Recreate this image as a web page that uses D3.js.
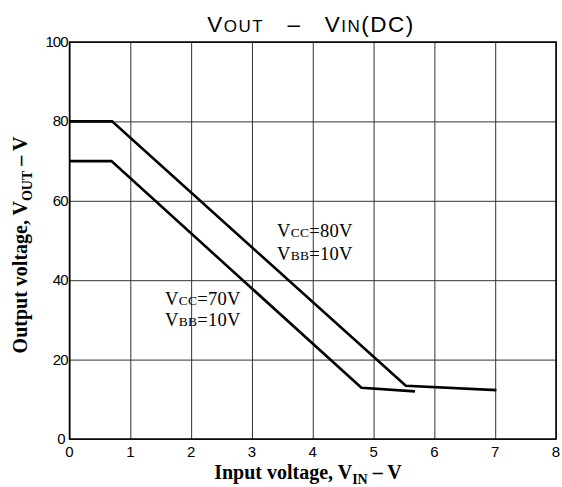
<!DOCTYPE html>
<html>
<head>
<meta charset="utf-8">
<script src="https://cdn.jsdelivr.net/npm/d3@7"></script>
<style>
  body { margin: 0; background: #fff; }
  svg { display: block; }
</style>
</head>
<body>
<svg id="chart"></svg>
<script>
// data
const xTicks = [0, 1, 2, 3, 4, 5, 6, 7, 8];
const yTicks = [0, 20, 40, 60, 80, 100];

const vcc80In = [0, 0.70, 5.53, 7.02];
const vcc80Out = [80, 80, 13.4, 12.3];
const vcc70In = [0, 0.69, 4.80, 5.68];
const vcc70Out = [70, 70, 12.9, 12.0];

const margin = { top: 42, right: 6, bottom: 48, left: 69.5 },
      width = 562 - margin.left - margin.right,
      height = 487 - margin.top - margin.bottom;

const svgRoot = d3.select("#chart")
    .attr("width", 562)
    .attr("height", 487);

const svg = svgRoot.append("g")
    .attr("transform", `translate(${margin.left},${margin.top})`);

const x = d3.scaleLinear().domain([0, 8]).range([0, width]);
const y = d3.scaleLinear().domain([0, 100]).range([height, 0]);

const sans = "'Liberation Sans', Arial, sans-serif";
const serif = "'Liberation Serif', 'Times New Roman', serif";

// grid lines
svg.append("g")
   .attr("transform", `translate(0,${height})`)
   .call(d3.axisBottom(x).tickValues(xTicks).tickSize(-height).tickFormat(""))
   .call(g => g.select(".domain").remove())
   .call(g => g.selectAll("line").attr("stroke", "#333").attr("stroke-width", 1));

svg.append("g")
   .call(d3.axisLeft(y).tickValues(yTicks).tickSize(-width).tickFormat(""))
   .call(g => g.select(".domain").remove())
   .call(g => g.selectAll("line").attr("stroke", "#333").attr("stroke-width", 1));

// frame
svg.append("rect")
   .attr("width", width).attr("height", height)
   .attr("fill", "none").attr("stroke", "#000").attr("stroke-width", 1.5);

// tick labels
svg.append("g").selectAll("text")
   .data(xTicks).enter().append("text")
   .attr("x", d => x(d))
   .attr("y", height + 18)
   .attr("text-anchor", "middle")
   .style("font-family", sans).style("font-size", "15px")
   .text(d => d);

svg.append("g").selectAll("text")
   .data(yTicks).enter().append("text")
   .attr("x", d => d === 0 ? -5 : -2)
   .attr("y", d => y(d) + 5)
   .attr("text-anchor", "end")
   .style("font-family", sans).style("font-size", "15px")
   .style("letter-spacing", "-1px")
   .text(d => d);

// curves
const line = d3.line().x(d => x(d[0])).y(d => y(d[1]));
[[vcc80In, vcc80Out], [vcc70In, vcc70Out]].forEach(s => {
  svg.append("path")
     .datum(s[0].map((v, i) => [v, s[1][i]]))
     .attr("d", line)
     .attr("fill", "none")
     .attr("stroke", "#000")
     .attr("stroke-width", 2.6)
     .attr("stroke-linejoin", "miter");
});

// annotations
function label(px, py, sub, rest) {
  const t = svgRoot.append("text")
     .attr("x", px).attr("y", py)
     .style("font-family", serif).style("font-size", "18.5px")
     .style("letter-spacing", "0.3px");
  t.append("tspan").text("V");
  t.append("tspan").style("font-size", "13.5px").text(sub);
  t.append("tspan").text(rest);
}
label(277, 237, "CC", "=80V");
label(277, 260, "BB", "=10V");
label(165, 305, "CC", "=70V");
label(165, 326, "BB", "=10V");

// title
const title = svgRoot.append("text")
   .attr("x", 311).attr("y", 32)
   .attr("text-anchor", "middle")
   .style("font-family", sans).style("font-size", "22.5px")
   .style("letter-spacing", "1.5px");
title.append("tspan").text("V");
title.append("tspan").style("font-size", "17px").text("OUT");
title.append("tspan").attr("xml:space", "preserve").text("   \u2013   ");
title.append("tspan").text("V");
title.append("tspan").style("font-size", "17px").text("IN");
title.append("tspan").text("(DC)");

// axis titles
const xt = svgRoot.append("text")
   .attr("x", 308).attr("y", 479)
   .attr("text-anchor", "middle")
   .style("font-family", serif).style("font-size", "20px").style("font-weight", "bold");
xt.append("tspan").text("Input voltage, V");
xt.append("tspan").attr("dy", 5).style("font-size", "14px").text("IN");
xt.append("tspan").attr("dy", -5).text(" \u2013 V");

const yt = svgRoot.append("text")
   .attr("transform", "translate(27,245) rotate(-90)")
   .attr("text-anchor", "middle")
   .style("font-family", serif).style("font-size", "20px").style("font-weight", "bold");
yt.append("tspan").text("Output voltage, V");
yt.append("tspan").attr("dy", 5).style("font-size", "14px").text("OUT");
yt.append("tspan").attr("dy", -5).text(" \u2013 V");
</script>
</body>
</html>
